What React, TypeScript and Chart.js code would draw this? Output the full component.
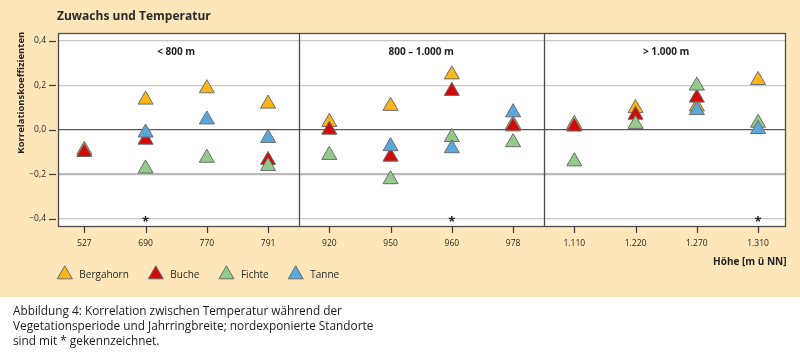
import React, { useEffect, useRef } from "react";
import { Chart, registerables } from "chart.js";

Chart.register(...registerables);

// ---- data ----
const categories = ["527", "690", "770", "791", "920", "950", "960", "978", "1.110", "1.220", "1.270", "1.310"];
const bergahorn = [-0.09, 0.135, 0.186, 0.117, 0.035, 0.107, 0.248, 0.025, 0.026, 0.097, 0.104, 0.223];
const buche = [-0.1, -0.045, null, -0.136, 0.0, -0.121, 0.174, 0.015, 0.014, 0.067, 0.144, null];
const fichte = [null, -0.174, -0.126, -0.163, -0.113, -0.222, -0.033, -0.056, -0.142, 0.026, 0.198, 0.031];
const tanne = [null, -0.013, 0.046, -0.037, null, -0.074, -0.083, 0.078, null, null, 0.088, 0.003];
const seriesNames = ["Bergahorn", "Buche", "Fichte", "Tanne"];
const yTickValues = [-0.4, -0.2, 0, 0.2, 0.4];
const panelLabels = ["< 800 m", "800 – 1.000 m", "> 1.000 m"];
const panelSizes = [4, 4, 4];
const northFacing = ["690", "960", "1.310"];
const titleText = "Zuwachs und Temperatur";
const yTitle = "Korrelationskoeffizienten";
const xTitle = "Höhe [m ü NN]";
const captionLines = [
  "Abbildung 4: Korrelation zwischen Temperatur während der",
  "Vegetationsperiode und Jahrringbreite; nordexponierte Standorte",
  "sind mit * gekennzeichnet.",
];

const COLORS = ["#FBB516", "#D20A0A", "#93CB8A", "#5AA7DE"];
const BEIGE = "#FDE7BA";
const FONT = "'Open Sans', 'DejaVu Sans', sans-serif";
const MARKER_R = 8.7;

function triangle(ctx: CanvasRenderingContext2D, x: number, y: number, r: number) {
  ctx.beginPath();
  for (let k = 0; k < 3; k++) {
    const ang = (k * 2 * Math.PI) / 3;
    const px = x + Math.sin(ang) * r;
    const py = y - Math.cos(ang) * r;
    if (k === 0) ctx.moveTo(px, py);
    else ctx.lineTo(px, py);
  }
  ctx.closePath();
}

const decor = {
  id: "decor",
  beforeDraw(chart: any) {
    const { ctx, chartArea: a, width, height } = chart;
    ctx.save();
    ctx.fillStyle = "#ffffff";
    ctx.fillRect(0, 0, width, height);
    ctx.fillStyle = BEIGE;
    ctx.fillRect(0, 0, width, 297);
    ctx.fillStyle = "#ffffff";
    ctx.fillRect(a.left, a.top, a.right - a.left, a.bottom - a.top);
    ctx.restore();
  },
  afterDraw(chart: any) {
    const { ctx, chartArea: a } = chart;
    const xs = chart.scales.x;
    const ys = chart.scales.y;
    ctx.save();

    // panel dividers
    ctx.strokeStyle = "#4a4a4a";
    ctx.lineWidth = 1.3;
    let start = 0;
    const centers: number[] = [];
    panelSizes.forEach((n, p) => {
      const end = start + n;
      centers.push(xs.getPixelForValue((start + end - 1) / 2));
      if (p < panelSizes.length - 1) {
        const px = Math.round(xs.getPixelForValue(end - 0.5)) + 0.5;
        ctx.beginPath();
        ctx.moveTo(px, a.top);
        ctx.lineTo(px, a.bottom);
        ctx.stroke();
      }
      start = end;
    });

    // border
    ctx.strokeRect(Math.round(a.left) + 0.5, Math.round(a.top) + 0.5, Math.round(a.right - a.left), Math.round(a.bottom - a.top));

    // tick marks
    ctx.strokeStyle = "#3a3a3a";
    ctx.lineWidth = 1.2;
    categories.forEach((_, i) => {
      const px = Math.round(xs.getPixelForValue(i)) + 0.5;
      ctx.beginPath();
      ctx.moveTo(px, a.bottom + 1);
      ctx.lineTo(px, a.bottom + 7);
      ctx.stroke();
    });
    yTickValues.forEach((v) => {
      const py = Math.round(ys.getPixelForValue(v)) + 0.5;
      ctx.beginPath();
      ctx.moveTo(a.left - 9, py);
      ctx.lineTo(a.left - 2, py);
      ctx.stroke();
    });

    // panel labels
    ctx.fillStyle = "#1e1e1e";
    ctx.font = `bold 10px ${FONT}`;
    ctx.textAlign = "center";
    ctx.textBaseline = "middle";
    panelLabels.forEach((t, p) => ctx.fillText(t, centers[p], a.top + 19.5));

    // stars for north-facing sites
    ctx.font = `bold 13px ${FONT}`;
    ctx.textBaseline = "alphabetic";
    northFacing.forEach((c) => {
      const i = categories.indexOf(c);
      ctx.fillText("*", xs.getPixelForValue(i), ys.getPixelForValue(yTickValues[0]) + 6.5);
    });

    // title
    ctx.textAlign = "left";
    ctx.fillStyle = "#2a2a2a";
    ctx.font = `bold 12px ${FONT}`;
    ctx.fillText(titleText, 57, 20);

    // y title
    ctx.save();
    ctx.translate(21.7, 92.7);
    ctx.rotate(-Math.PI / 2);
    ctx.textAlign = "center";
    ctx.textBaseline = "middle";
    ctx.font = `bold 9.5px ${FONT}`;
    ctx.fillStyle = "#1e1e1e";
    ctx.fillText(yTitle, 0, 0);
    ctx.restore();

    // x title
    ctx.textAlign = "right";
    ctx.textBaseline = "middle";
    ctx.font = `bold 10px ${FONT}`;
    ctx.fillStyle = "#1e1e1e";
    ctx.fillText(xTitle, a.right + 1.5, 262);

    // legend
    let lx = 64.8;
    const ly = 274.5;
    ctx.font = `10px ${FONT}`;
    ctx.textAlign = "left";
    seriesNames.forEach((name, k) => {
      triangle(ctx, lx, ly, MARKER_R);
      ctx.fillStyle = COLORS[k];
      ctx.fill();
      ctx.strokeStyle = "#6c6c6c";
      ctx.lineWidth = 1;
      ctx.stroke();
      ctx.fillStyle = "#1e1e1e";
      const tx = lx + 14.5;
      ctx.fillText(name, tx, ly + 0.5);
      lx = tx + ctx.measureText(name).width + 27;
    });

    // caption
    ctx.fillStyle = "#1a1a1a";
    ctx.font = `11.8px ${FONT}`;
    ctx.textBaseline = "middle";
    captionLines.forEach((line, k) => ctx.fillText(line, 13, 312 + k * 14.8));

    ctx.restore();
  },
};

function toPoints(values: (number | null)[]) {
  return values
    .map((v, i) => ({ x: i, y: v }))
    .filter((p) => p.y !== null) as { x: number; y: number }[];
}

export default function App() {
  const ref = useRef<HTMLCanvasElement>(null);
  useEffect(() => {
    document.body.style.margin = "0";
    const allSeries = [bergahorn, buche, fichte, tanne];
    const chart = new Chart(ref.current as HTMLCanvasElement, {
      type: "scatter",
      data: {
        datasets: allSeries.map((s, k) => ({
          label: seriesNames[k],
          data: toPoints(s),
          pointStyle: "triangle",
          pointRadius: MARKER_R,
          pointHoverRadius: MARKER_R,
          backgroundColor: COLORS[k],
          borderColor: "#6c6c6c",
          borderWidth: 1,
          order: allSeries.length - k,
        })),
      },
      options: {
        responsive: false,
        animation: false,
        devicePixelRatio: 1,
        events: [],
        layout: { padding: { left: 0, right: 15, top: 33, bottom: 101 } },
        plugins: { legend: { display: false }, tooltip: { enabled: false }, title: { display: false } },
        scales: {
          x: {
            type: "linear",
            min: -0.43,
            max: 11.44,
            afterFit: (s: any) => {
              s.height = 30;
            },
            afterBuildTicks: (s: any) => {
              s.ticks = categories.map((_, i) => ({ value: i }));
            },
            ticks: {
              autoSkip: false,
              maxRotation: 0,
              padding: 12,
              color: "#1e1e1e",
              font: { family: FONT, size: 8.5 },
              callback: (v: any) => categories[v as number] ?? "",
            },
            grid: { display: false, drawTicks: false },
            border: { display: false },
          },
          y: {
            type: "linear",
            min: -0.4314,
            max: 0.4345,
            afterFit: (s: any) => {
              s.width = 58;
            },
            afterBuildTicks: (s: any) => {
              s.ticks = yTickValues.map((v) => ({ value: v }));
            },
            ticks: {
              padding: 12,
              color: "#1e1e1e",
              font: { family: FONT, size: 8.5 },
              callback: (v: any) => {
                const n = Number(v);
                const s = Math.abs(n).toFixed(1).replace(".", ",");
                return n < 0 ? "\u2212" + s : s;
              },
            },
            grid: {
              drawTicks: false,
              color: (c: any) => (c.tick && c.tick.value === 0 ? "#5a5a5a" : c.tick && c.tick.value === -0.2 ? "#b9b9b9" : "#c6c6c6"),
              lineWidth: (c: any) => (c.tick && c.tick.value === -0.2 ? 2.2 : 1.2),
            },
            border: { display: false },
          },
        },
      } as any,
      plugins: [decor],
    });
    return () => chart.destroy();
  }, []);
  return (
    <div style={{ width: 800, height: 357 }}>
      <canvas ref={ref} width={800} height={357} style={{ display: "block" }} />
    </div>
  );
}
